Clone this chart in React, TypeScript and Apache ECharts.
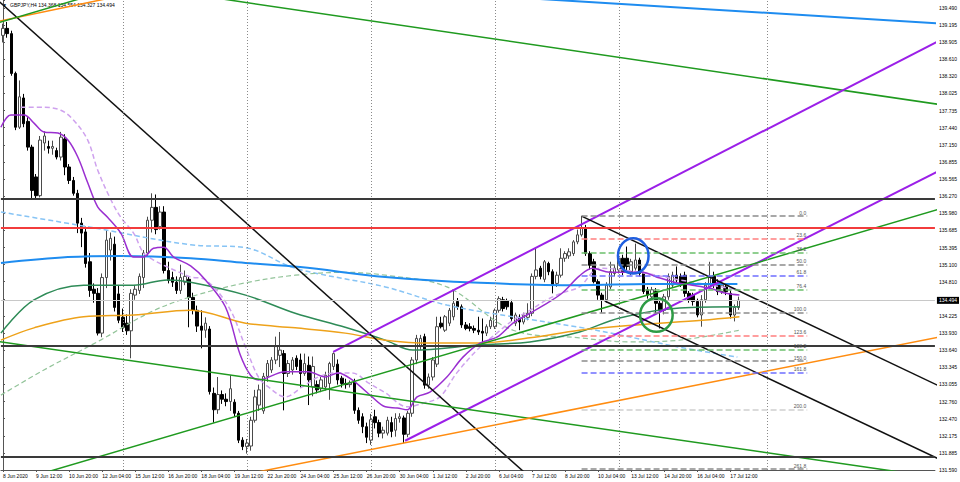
import React, { useEffect, useRef } from "react";
import * as echarts from "echarts";

// ---------- DATA ----------
// H4 candles from 8 Jun 2020 04:00, [open, close, low, high]
const candles: number[][] = [
  [139.02,139.14,138.90,139.22],[139.14,139.05,138.98,139.25],[139.05,138.37,138.33,139.10],[138.37,137.45,137.40,138.40],
  [137.45,137.97,137.42,138.25],[137.95,137.51,137.45,138.02],[137.55,137.11,137.05,137.62],[137.11,136.37,136.23,137.15],
  [136.60,136.28,136.22,136.65],[136.28,137.23,136.25,137.30],[137.18,137.30,137.05,137.38],[137.12,137.09,137.00,137.22],
  [137.09,137.12,136.98,137.22],[137.05,136.94,136.90,137.10],[136.94,137.28,136.88,137.37],[137.25,136.77,136.63,137.33],
  [136.77,136.54,136.48,136.82],[136.54,136.32,136.28,136.60],[136.32,135.81,135.64,136.38],[135.81,135.64,135.40,135.90],
  [135.66,135.12,135.05,135.75],[135.15,134.66,134.55,135.30],[134.68,134.61,134.45,134.78],[134.61,133.93,133.89,134.70],
  [133.93,134.88,133.86,134.95],[134.88,135.52,134.70,135.69],[135.35,135.55,135.17,135.65],[135.45,134.37,134.30,135.58],
  [134.60,134.15,134.10,134.75],[134.20,134.03,133.95,134.35],[134.10,133.97,133.90,134.25],[133.97,134.61,133.50,134.68],
  [134.58,134.68,134.50,134.75],[134.66,134.90,134.60,134.95],[134.88,135.30,134.70,135.35],[135.30,135.86,135.25,135.92],
  [135.86,136.08,135.65,136.32],[136.08,135.70,135.62,136.30],[135.75,136.00,135.70,136.10],[136.00,135.00,134.95,136.10],
  [135.00,134.83,134.78,135.15],[134.88,134.80,134.72,134.98],[134.80,134.66,134.60,134.90],[134.66,134.88,134.60,135.10],
  [134.80,134.90,134.75,135.00],[134.85,134.54,134.03,134.90],[134.54,134.32,134.25,134.62],[134.32,134.05,133.95,134.40],
  [134.05,133.98,133.67,134.32],[133.98,134.10,133.85,134.20],[134.00,132.93,132.88,134.05],[132.90,132.62,132.40,133.00],
  [132.62,132.88,132.55,133.18],[132.88,132.80,132.72,132.95],[132.80,132.76,132.68,132.90],[132.76,132.98,132.60,133.21],
  [132.75,132.56,132.50,132.80],[132.56,132.10,132.05,132.60],[132.10,131.99,131.93,132.15],[131.99,132.05,131.87,132.12],
  [132.00,132.44,131.92,132.50],[132.44,132.84,132.40,132.96],[132.70,132.96,132.60,133.05],[132.60,133.19,132.55,133.25],
  [133.19,133.41,133.10,133.47],[133.30,133.47,133.25,133.52],[133.47,133.70,133.40,133.87],[133.55,133.64,133.35,133.95],
  [133.58,133.24,132.61,133.64],[133.24,133.41,133.18,133.47],[133.30,133.47,133.22,133.52],[133.50,133.36,133.30,133.55],
  [133.47,133.24,133.00,133.58],[133.24,133.41,133.20,133.58],[133.38,133.13,132.70,133.53],[133.01,133.36,132.85,133.53],
  [133.05,132.96,132.90,133.12],[132.98,133.13,132.92,133.18],[133.01,133.21,132.95,133.27],[133.07,133.41,132.79,133.44],
  [133.36,133.58,133.30,133.60],[133.40,133.13,133.05,133.48],[133.16,133.07,133.00,133.20],[133.07,133.05,132.98,133.15],
  [133.05,133.08,133.00,133.12],[133.10,132.61,132.55,133.15],[132.61,132.44,132.38,132.66],[132.50,132.33,132.22,132.56],
  [132.33,132.15,132.05,132.40],[132.10,132.45,132.02,132.55],[132.50,132.40,132.30,132.62],[132.40,132.22,132.15,132.45],
  [132.22,132.27,132.13,132.33],[132.22,132.44,132.18,132.50],[132.40,132.25,132.15,132.50],[132.27,132.47,132.16,132.56],
  [132.47,132.50,132.40,132.56],[132.48,132.20,132.05,132.52],[132.20,132.56,132.15,132.60],[132.56,133.47,132.50,133.52],
  [133.47,133.84,133.40,133.90],[133.70,133.84,133.64,133.90],[133.87,133.04,132.98,133.92],[133.04,133.18,132.98,133.24],
  [133.18,133.47,133.12,133.52],[133.40,134.04,133.35,134.21],[134.10,134.04,134.01,134.21],[133.98,134.21,133.95,134.24],
  [134.10,134.32,134.05,134.36],[134.21,134.44,134.15,134.67],[134.47,134.38,134.33,134.53],[134.38,134.07,134.02,134.42],
  [134.07,134.01,133.98,134.12],[134.04,134.01,133.96,134.10],[134.01,133.98,133.93,134.06],[133.98,133.95,133.90,134.21],
  [133.96,133.93,133.76,134.18],[133.93,134.04,133.88,134.08],[134.04,134.15,134.00,134.21],[134.04,134.32,134.00,134.35],
  [134.32,134.52,134.28,134.56],[134.50,134.35,134.30,134.55],[134.48,134.38,134.33,134.52],[134.45,134.18,134.12,134.50],
  [134.10,134.24,134.05,134.28],[134.20,134.12,133.98,134.25],[134.12,134.24,134.08,134.28],[134.20,134.27,134.15,134.44],
  [134.27,134.90,134.22,134.95],[134.90,135.01,134.85,135.38],[135.04,134.90,134.85,135.08],[134.85,135.15,134.80,135.18],
  [135.12,134.98,134.92,135.15],[134.98,134.75,134.61,135.02],[134.78,134.92,134.72,134.98],[134.92,135.21,134.88,135.38],
  [135.21,135.29,135.15,135.33],[135.25,135.32,135.20,135.38],[135.29,135.49,135.25,135.52],[135.49,135.61,135.45,135.70],
  [135.61,135.72,135.58,135.93],[135.72,135.29,135.25,135.78],[135.29,135.09,135.02,135.33],[135.15,134.81,134.78,135.20],
  [134.81,134.58,134.50,134.85],[134.58,134.50,134.28,134.62],[134.50,134.75,134.45,134.80],[134.72,134.98,134.68,135.15],
  [134.95,135.04,134.90,135.10],[135.01,135.21,134.95,135.35],[135.21,134.98,134.92,135.27],[135.21,135.07,135.00,135.41],
  [134.98,135.15,134.92,135.20],[135.04,135.18,135.00,135.46],[135.18,134.95,134.90,135.22],[134.95,134.64,134.60,134.98],
  [134.67,134.58,134.52,134.72],[134.55,134.67,134.50,134.72],[134.64,134.44,134.27,134.70],[134.44,134.32,134.01,134.48],
  [134.32,134.55,134.25,134.60],[134.55,134.90,134.50,134.95],[134.75,134.92,134.70,134.98],[134.92,134.84,134.78,135.07],
  [134.90,134.78,134.72,134.95],[134.92,134.61,134.55,134.98],[134.61,134.50,134.45,134.65],[134.58,134.47,134.40,134.62],
  [134.47,134.24,134.20,134.52],[134.24,134.50,134.04,134.58],[134.50,134.75,134.45,134.80],[134.72,134.90,134.68,135.15],
  [134.90,134.75,134.70,134.98],[134.78,134.64,134.58,134.85],[134.64,134.75,134.60,134.80],[134.72,134.64,134.58,134.76],
  [134.61,134.24,134.18,134.66],[134.24,134.37,134.13,134.42],[134.368,134.494,134.327,134.554],
];

const SLOT_COUNT = 226; // bars + empty space at right
const timeLabelIdx = [0, 8, 16, 24, 32, 40, 48, 56, 64, 72, 80, 88, 96, 104, 112, 120, 128, 136, 144, 152, 160, 168, 176];
const timeLabels = [
  "8 Jun 2020", "9 Jun 12:00", "10 Jun 20:00", "12 Jun 04:00", "15 Jun 12:00", "16 Jun 20:00", "18 Jun 04:00",
  "19 Jun 12:00", "22 Jun 20:00", "24 Jun 04:00", "25 Jun 12:00", "26 Jun 20:00", "30 Jun 04:00", "1 Jul 12:00",
  "2 Jul 20:00", "6 Jul 04:00", "7 Jul 12:00", "8 Jul 20:00", "10 Jul 04:00", "13 Jul 12:00", "14 Jul 20:00",
  "16 Jul 04:00", "17 Jul 12:00",
];
const priceTickLabels = [
  "131.590", "131.885", "132.175", "132.470", "132.760", "133.055", "133.345", "133.640", "133.930", "134.225",
  "134.810", "135.100", "135.395", "135.685", "135.980", "136.270", "136.565", "136.855", "137.150", "137.440",
  "137.735", "138.025", "138.320", "138.610", "138.905", "139.195", "139.490",
];
const separatorIdx = [29, 59, 89, 119, 149, 185];

// moving averages: [bar index, price]
const maBlue = [[-0.5,135.13],[15.7,135.23],[28.5,135.25],[45.4,135.21],[58.7,135.13],[71.9,135.06],[92.5,134.89],[115.4,134.79],[139.5,134.75],[156.4,134.77],[177.7,134.77]];
const maBlueDash = [[-0.5,136.00],[21.2,135.74],[45.4,135.44],[58.7,135.39],[70.7,135.04],[92.5,134.72],[107.4,134.41],[123.4,134.21],[139.5,134.03],[149.2,133.90],[163.7,133.69],[177.7,133.52]];
const maGreen = [[-0.5,133.93],[7.5,134.50],[19.5,134.75],[31.6,134.75],[39.8,134.84],[45.4,134.80],[58.7,134.58],[70.7,134.27],[82.8,134.03],[92.5,133.81],[99.2,133.64],[115.4,133.73],[127.5,133.78],[139.5,133.95],[149.2,134.19],[163.7,134.36],[178.2,134.38]];
const maOrange = [[-0.5,133.81],[7.5,134.02],[19.5,134.21],[31.6,134.24],[45.4,134.32],[58.7,134.10],[70.7,134.02],[82.8,133.93],[92.5,133.81],[103.3,133.76],[115.4,133.76],[127.5,133.85],[139.5,133.98],[153.3,134.07],[169.2,134.15],[178.2,134.21]];
const maGreenDash = [[-0.5,132.87],[9.9,133.30],[23.6,133.81],[35.7,134.29],[45.4,134.55],[58.7,134.79],[70.7,134.92],[82.8,134.97],[92.5,134.92],[107.4,134.72],[123.4,133.98],[139.5,133.85],[151.6,133.78],[163.7,133.81],[178.2,133.98]];
const maPurple = [[-0.5,137.45],[1.9,137.66],[5.1,137.66],[7.5,137.52],[9.9,137.37],[13.3,137.35],[15.7,137.23],[18.1,136.94],[20.5,136.50],[22.9,136.09],[25.3,135.91],[28.5,135.64],[31.6,135.23],[34.0,135.23],[36.4,135.38],[38.9,135.40],[41.3,135.23],[45.4,135.08],[49.0,134.84],[53.8,134.38],[57.4,133.56],[59.9,133.21],[61.8,133.13],[68.3,133.27],[73.9,133.27],[78.0,133.18],[81.1,133.25],[84.5,133.13],[89.3,132.84],[92.5,132.67],[95.4,132.65],[97.8,132.62],[100.2,132.84],[103.3,132.92],[107.4,133.18],[111.3,133.52],[115.4,133.76],[119.5,133.86],[123.4,134.10],[127.5,134.27],[131.6,134.44],[135.4,134.62],[139.5,134.91],[142.7,135.04],[146.8,134.97],[150.9,134.97],[154.8,134.97],[158.1,134.89],[163.0,134.79],[166.8,134.75],[170.9,134.70],[175.0,134.61],[178.2,134.58]];
const maPurpleDash = [[4.3,137.79],[9.9,137.79],[14.0,137.74],[17.1,137.57],[20.5,137.23],[22.9,136.72],[26.1,136.21],[28.5,135.91],[31.6,135.64],[34.0,135.30],[36.4,135.18],[39.8,135.06],[43.0,134.96],[45.4,134.89],[49.0,134.84],[54.6,134.38],[58.7,133.69],[61.8,133.18],[64.2,133.01],[68.3,132.84],[72.4,133.01],[76.3,133.18],[80.4,133.25],[84.5,133.25],[88.4,133.08],[92.5,132.91],[97.8,132.67],[101.6,132.73],[105.7,132.84],[109.8,133.25],[115.4,133.69],[119.5,133.93],[123.4,134.15],[127.5,134.32],[131.6,134.50],[135.4,134.62],[139.5,134.72],[144.4,135.04],[154.0,134.97],[163.7,134.84],[178.2,134.67]];

// drawn trend lines: two anchors [bar index, price]
const tlBlackMain = [[0, 139.54], [125.05, 131.62]];
const tlBlueTop = [[142.0, 139.59], [225.5, 139.23]];
const tlGreenTop = [[56.2, 139.61], [225.5, 137.85]];
const tlPurpleUpper = [[79.9, 133.61], [225.5, 138.89]];
const tlPurpleLower = [[97.3, 132.09], [225.5, 136.67]];
const tlGreenRising = [[12.3, 131.59], [225.5, 136.03]];
const tlGreenFalling = [[-0.5, 133.78], [215.6, 131.57]];
const tlOrangeRising = [[64.0, 131.59], [225.5, 133.85]];
const tlOrangeUpper = [[-0.5, 139.27], [21.2, 139.59]];
const tlGreenUpper = [[-0.5, 139.25], [16.4, 139.60]];
const tlBlackUpper = [[140, 135.93], [225.5, 133.06]];
const tlBlackLower = [[145.6, 134.48], [225.5, 131.81]];

// horizontal levels
const levelBlackTop = 136.23;
const levelRed = 135.73;
const levelBlackMid = 133.71;
const levelBlackLow = 131.82;
const lastPrice = 134.494;

// fibonacci retracement
const fibHigh = 135.932;
const fibLow = 134.279;
const fibFromIdx = 140;
const fibToIdx = 194.6;
const fibLevels = [0, 23.6, 38.2, 50, 61.8, 76.4, 100, 123.6, 138.2, 150, 161.8, 200, 261.8];

// ellipse marks: [center idx, center price, half-width bars, half-height price]
const circleMarks = [[152.5, 135.25, 3.7, 0.30], [158.1, 134.24, 3.94, 0.285]];

// ---------- STYLE ----------
const FONT = "'Liberation Sans', Arial, sans-serif";
const fibColors = ["#8c8c8c", "#ff7f7f", "#6cc06c", "#8c8c8c", "#6f6fff", "#6cc06c", "#8c8c8c", "#ff7f7f", "#6cc06c", "#8c8c8c", "#6f6fff", "#cfcfcf", "#8c8c8c"];
const circleColors = ["#1f5fe0", "#2e9b45"];

const Y_MIN = 131.59;
const Y_MAX = 139.625;
const Y_STEP = (139.49 - 131.59) / 27;

function extendLine(pts: number[][], ray: "both" | "right") {
  const [a, b] = pts;
  const k = (b[1] - a[1]) / (b[0] - a[0]);
  const x0 = ray === "both" ? -5 : a[0];
  const x1 = 240;
  return [[x0, a[1] + k * (x0 - a[0])], [x1, a[1] + k * (x1 - a[0])]];
}

export default function App() {
  const ref = useRef<HTMLDivElement>(null);
  useEffect(() => {
    document.body.style.margin = "0";
    if (!ref.current) return;
    const chart = echarts.init(ref.current, undefined, { renderer: "svg" });

    const labelMap: Record<number, string> = {};
    timeLabelIdx.forEach((i, k) => (labelMap[i] = timeLabels[k]));
    const cats = Array.from({ length: SLOT_COUNT }, (_, i) => String(i));
    const last = candles[candles.length - 1];
    const header = `GBPJPY,H4 ${last[0].toFixed(3)} ${last[3].toFixed(3)} ${last[2].toFixed(3)} ${last[1].toFixed(3)}`;

    const maSeries = (data: number[][], color: string, width: number, dashed: boolean, z = 3) => ({
      type: "line", xAxisIndex: 1, yAxisIndex: 0, data, showSymbol: false, smooth: 0.35, silent: true, z,
      lineStyle: { color, width, type: dashed ? [5, 3] : "solid" },
    });
    const tlSeries = (pts: number[][], ray: "both" | "right", color: string, width: number) => ({
      type: "line", xAxisIndex: 1, yAxisIndex: 0, data: extendLine(pts, ray), showSymbol: false, silent: true, z: 4,
      clip: true, lineStyle: { color, width },
    });

    const option: any = {
      animation: false,
      backgroundColor: "#ffffff",
      grid: { left: 0, right: 24, top: 0, bottom: 12, containLabel: false },
      graphic: [
        { type: "text", left: 2, top: 2, style: { text: "▼", fontSize: 5, fill: "#000", fontFamily: FONT } },
        { type: "text", left: 10, top: 2, style: { text: header, fontSize: 5, fill: "#000", fontFamily: FONT } },
      ],
      xAxis: [
        {
          type: "category", data: cats, boundaryGap: true,
          axisLine: { show: true, lineStyle: { color: "#555", width: 1 } },
          axisTick: { show: true, alignWithLabel: true, length: 2, interval: (i: number) => labelMap[i] !== undefined, lineStyle: { color: "#555" } },
          axisLabel: {
            interval: (i: number) => labelMap[i] !== undefined,
            formatter: (_v: string, i: number) => labelMap[i] || "",
            align: "left", fontSize: 5, color: "#000", margin: 3, fontFamily: FONT,
          },
          splitLine: { show: false },
        },
        { type: "value", min: -0.5, max: SLOT_COUNT - 0.5, show: false, splitLine: { show: false } },
      ],
      yAxis: {
        type: "value", position: "right", min: Y_MIN, max: Y_MAX, interval: Y_STEP,
        axisLine: { show: true, lineStyle: { color: "#555", width: 1 } },
        axisTick: { show: true, length: 2, lineStyle: { color: "#555" } },
        axisLabel: {
          fontSize: 5, color: "#000", margin: 4, fontFamily: FONT,
          formatter: (v: number) => {
            let best = ""; let bd = 1e9;
            for (const s of priceTickLabels) { const d = Math.abs(parseFloat(s) - v); if (d < bd) { bd = d; best = s; } }
            return bd < 0.02 ? best : "";
          },
        },
        splitLine: { show: false },
      },
      series: [
        {
          type: "line", xAxisIndex: 1, yAxisIndex: 0, data: [], silent: true, z: 1,
          markLine: {
            silent: true, symbol: ["none", "none"], animation: false, label: { show: false },
            data: separatorIdx.map((x) => ({ xAxis: x, lineStyle: { color: "#8a8a8a", type: [1, 2], width: 1 } })),
          },
        },
        {
          type: "candlestick", xAxisIndex: 0, yAxisIndex: 0, data: candles, barWidth: 3, z: 2, silent: true,
          itemStyle: { color: "#ffffff", color0: "#000000", borderColor: "#4a4a4a", borderColor0: "#000000", borderWidth: 1 },
        },
        maSeries(maBlueDash, "#87c4f5", 1.5, true),
        maSeries(maGreenDash, "#93c49a", 1.2, true),
        maSeries(maPurpleDash, "#cfa2ee", 1.5, true),
        maSeries(maBlue, "#1e8cf0", 2, false),
        maSeries(maGreen, "#2e8b57", 1.5, false),
        maSeries(maOrange, "#eea21a", 1.5, false),
        maSeries(maPurple, "#9a2fd0", 1.5, false),
        {
          type: "line", xAxisIndex: 1, yAxisIndex: 0, data: [[fibFromIdx, fibHigh]], showSymbol: false, silent: true, z: 3,
          markLine: {
            silent: true, symbol: ["none", "none"], animation: false,
            data: fibLevels.map((r, i) => {
              const p = fibHigh - (r / 100) * (fibHigh - fibLow);
              return [
                {
                  coord: [fibFromIdx, p],
                  lineStyle: { color: fibColors[i], type: [6, 3], width: 1.5 },
                  label: { show: true, formatter: r.toFixed(1), position: "insideEndTop", color: "#555", fontSize: 5, fontFamily: FONT, distance: 1 },
                },
                { coord: [fibToIdx, p] },
              ];
            }),
          },
        },
        {
          type: "line", xAxisIndex: 1, yAxisIndex: 0, data: [], silent: true, z: 3,
          markLine: {
            silent: true, symbol: ["none", "none"], animation: false, label: { show: false },
            data: [
              { yAxis: lastPrice, lineStyle: { color: "#c8c8c8", width: 1, type: "solid" },
                label: { show: true, position: "end", formatter: lastPrice.toFixed(3), backgroundColor: "#000", color: "#fff", fontSize: 5, fontFamily: FONT, padding: [1, 2], distance: 2 } },
              { yAxis: levelBlackTop, lineStyle: { color: "#3a3a3a", width: 2, type: "solid" } },
              { yAxis: levelRed, lineStyle: { color: "#f23c3c", width: 2, type: "solid" } },
              { yAxis: levelBlackMid, lineStyle: { color: "#3a3a3a", width: 2, type: "solid" } },
              { yAxis: levelBlackLow, lineStyle: { color: "#3a3a3a", width: 2, type: "solid" } },
            ],
          },
        },
        tlSeries(tlBlackMain, "both", "#111", 1.5),
        tlSeries(tlBlueTop, "both", "#1e8cf0", 2),
        tlSeries(tlGreenTop, "both", "#1f9a1f", 1.5),
        tlSeries(tlPurpleUpper, "right", "#9b1fe8", 2),
        tlSeries(tlPurpleLower, "right", "#9b1fe8", 2),
        tlSeries(tlGreenRising, "both", "#1f9a1f", 1.5),
        tlSeries(tlGreenFalling, "both", "#1f9a1f", 1.5),
        tlSeries(tlOrangeRising, "both", "#ff8c10", 1.5),
        tlSeries(tlOrangeUpper, "both", "#ff8c10", 1.5),
        tlSeries(tlGreenUpper, "both", "#1f9a1f", 1.5),
        tlSeries(tlBlackUpper, "right", "#111", 1.5),
        tlSeries(tlBlackLower, "right", "#111", 1.5),
        {
          type: "custom", xAxisIndex: 1, yAxisIndex: 0, data: circleMarks, silent: true, z: 6,
          renderItem: (params: any, api: any) => {
            const c = api.coord([api.value(0), api.value(1)]);
            const s = api.size([api.value(2), api.value(3)]);
            return {
              type: "ellipse",
              shape: { cx: c[0], cy: c[1], rx: s[0], ry: s[1] },
              style: { fill: "none", stroke: circleColors[params.dataIndex], lineWidth: 2.5 },
            };
          },
        },
      ],
    };
    chart.setOption(option);
    return () => chart.dispose();
  }, []);
  return <div ref={ref} style={{ width: 960, height: 482 }} />;
}
